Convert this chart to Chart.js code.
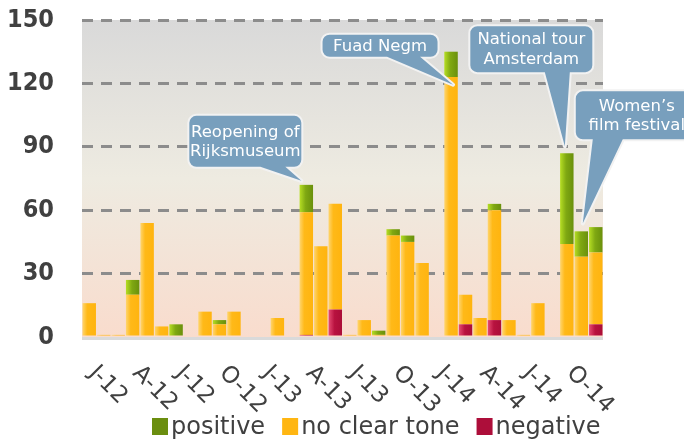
<!DOCTYPE html>
<html>
<head>
<meta charset="utf-8">
<script src="https://cdn.jsdelivr.net/npm/chart.js@4/dist/chart.umd.min.js"></script>
<style>
  html, body { margin: 0; padding: 0; background: #ffffff; }
  #wrap { width: 684px; height: 439px; position: relative; }
</style>
</head>
<body>
<div id="wrap"><canvas id="c"></canvas></div>
<script>
// ---- data ----
const categories = [
  'J-12','F-12','M-12','A-12','M-12','J-12','J-12','A-12','S-12','O-12','N-12','D-12',
  'J-13','F-13','M-13','A-13','M-13','J-13','J-13','A-13','S-13','O-13','N-13','D-13',
  'J-14','F-14','M-14','A-14','M-14','J-14','J-14','A-14','S-14','O-14','N-14','D-14'
];
const negative = [0,0,0,0,0,0,0,0,0,0,0,0, 0,0,0,1,0,13,0,0,0,0,0,0, 0,0,6,0,8,0,0,0,0,0,0,6];
const noClearTone = [16,1,1,20,54,5,0,0,12,6,12,0, 0,9,0,58,43,50,1,8,1,48,45,35, 0,123,14,9,52,8,1,16,0,44,38,34];
const positive = [0,0,0,7,0,0,6,0,0,2,0,0, 0,0,0,13,0,0,0,0,2,3,3,0, 0,12,0,0,3,0,0,0,0,43,12,12];
const seriesNames = ['negative', 'no clear tone', 'positive'];
const calloutTexts = [
  ['Reopening of', 'Rijksmuseum'],
  ['Fuad Negm'],
  ['National tour', 'Amsterdam'],
  ['Women\u2019s', 'film festival']
];
const calloutIndex = [15, 25, 33, 34];

// ---- styles / layout ----
const FONT = '"DejaVu Sans", sans-serif';
const TEXT = '#404040';
const calloutGeom = [
  { tip: [-5, -4],  box: [-112, -65, 112, 51],   base: [-41, -16] },
  { tip: [2, 33],   box: [-130.5, -50, 115, 22], base: [-66, -33] },
  { tip: [-2, -7],  box: [-94.5, -120, 122, 46], base: [-20, 5] },
  { tip: [1.5, -8], box: [-7, -132, 122, 48],    base: [10, 40] }
];

function barGradient(stops, solid) {
  return (ctx) => {
    const chart = ctx.chart;
    const xs = chart.scales && chart.scales.x;
    if (!xs || ctx.type !== 'data' || !xs.width) return solid;
    const cx = xs.getPixelForValue(ctx.dataIndex);
    const w = xs.width / categories.length * 0.93;
    const g = chart.ctx.createLinearGradient(cx - w / 2, 0, cx + w / 2, 0);
    stops.forEach(s => g.addColorStop(s[0], s[1]));
    return g;
  };
}

const legendColors = ['#ad0e3a', '#ffb612', '#6b8e0f'];

const bgPlugin = {
  id: 'bg',
  beforeDraw(chart) {
    const { ctx, chartArea: a } = chart;
    const g = ctx.createLinearGradient(0, a.top, 0, a.bottom);
    g.addColorStop(0, '#d9d9d9');
    g.addColorStop(0.5, '#eeebe1');
    g.addColorStop(1, '#f9dccd');
    ctx.save();
    ctx.fillStyle = g;
    ctx.fillRect(a.left, a.top, a.right - a.left, a.bottom - a.top);
    ctx.restore();
  },
  afterDatasetsDraw(chart) {
    const { ctx, chartArea: a } = chart;
    ctx.save();
    ctx.fillStyle = '#dadada';
    ctx.fillRect(a.left, a.bottom, a.right - a.left, 3);
    ctx.restore();
  }
};

function calloutPath(c, bx, by, bw, bh, r, b1, b2, tx, ty) {
  c.beginPath();
  c.moveTo(bx + r, by);
  c.lineTo(bx + bw - r, by);
  c.arcTo(bx + bw, by, bx + bw, by + r, r);
  c.lineTo(bx + bw, by + bh - r);
  c.arcTo(bx + bw, by + bh, bx + bw - r, by + bh, r);
  c.lineTo(b2, by + bh);
  c.lineTo(tx, ty);
  c.lineTo(b1, by + bh);
  c.lineTo(bx + r, by + bh);
  c.arcTo(bx, by + bh, bx, by + bh - r, r);
  c.lineTo(bx, by + r);
  c.arcTo(bx, by, bx + r, by, r);
  c.closePath();
}

const overlayPlugin = {
  id: 'overlay',
  afterDraw(chart) {
    const c = chart.ctx;
    const xs = chart.scales.x;
    const a = chart.chartArea;
    // x tick labels, rotated clockwise
    c.save();
    c.font = '23px ' + FONT;
    c.fillStyle = TEXT;
    c.textAlign = 'left';
    c.textBaseline = 'alphabetic';
    categories.forEach((lab, i) => {
      if (i % 3 !== 0) return;
      const x = xs.getPixelForValue(i);
      c.save();
      c.translate(x - 1, a.bottom + 37);
      c.rotate(Math.PI / 4);
      c.fillText(lab, 0, 0);
      c.restore();
    });
    c.restore();

    // legend
    c.save();
    c.font = '24px ' + FONT;
    c.textBaseline = 'alphabetic';
    c.textAlign = 'left';
    let lx = a.left + 70;
    const ly = 418;
    for (let k = chart.data.datasets.length - 1; k >= 0; k--) {
      const ds = chart.data.datasets[k];
      c.fillStyle = legendColors[k];
      c.fillRect(lx, ly, 16, 17);
      c.fillStyle = TEXT;
      c.fillText(ds.label, lx + 19, ly + 16);
      lx += 19 + c.measureText(ds.label).width + 17;
    }
    c.restore();

    // callouts
    const meta = chart.getDatasetMeta(chart.data.datasets.length - 1);
    c.save();
    c.font = '16.5px ' + FONT;
    c.textAlign = 'center';
    c.textBaseline = 'alphabetic';
    calloutIndex.forEach((idx, n) => {
      const el = meta.data[idx];
      const gm = calloutGeom[n];
      const tx = el.x + gm.tip[0], ty = el.y + gm.tip[1];
      const bx = tx + gm.box[0], by = ty + gm.box[1], bw = gm.box[2], bh = gm.box[3];
      calloutPath(c, bx, by, bw, bh, 7, tx + gm.base[0], tx + gm.base[1], tx, ty);
      c.lineJoin = 'round';
      c.strokeStyle = '#f2f2f2';
      c.lineWidth = 4;
      c.stroke();
      c.fillStyle = '#789fbd';
      c.fill();
      c.fillStyle = '#ffffff';
      const lines = calloutTexts[n];
      const cy = by + bh / 2;
      lines.forEach((t, i) => {
        c.fillText(t, bx + bw / 2, cy + (i - (lines.length - 1) / 2) * 19.5 + 5);
      });
    });
    c.restore();
  }
};

new Chart(document.getElementById('c'), {
  type: 'bar',
  data: {
    labels: categories,
    datasets: [
      { label: seriesNames[0], data: negative,
        backgroundColor: barGradient([[0, '#e64c72'], [0.45, '#b8123f'], [1, '#ab0e38']], '#ad0e3a') },
      { label: seriesNames[1], data: noClearTone,
        backgroundColor: barGradient([[0, '#ffd56e'], [0.35, '#ffb918'], [1, '#ffb40f']], '#ffb612') },
      { label: seriesNames[2], data: positive,
        backgroundColor: barGradient([[0, '#b6de24'], [0.45, '#7fa812'], [1, '#6a900c']], '#6b8e0f') }
    ]
  },
  options: {
    responsive: true,
    maintainAspectRatio: false,
    animation: false,
    layout: { padding: { top: 20, right: 81, bottom: 0, left: 0 } },
    datasets: { bar: { barPercentage: 0.93, categoryPercentage: 1.0, borderWidth: 0 } },
    plugins: { legend: { display: false }, tooltip: { enabled: false } },
    scales: {
      x: {
        stacked: true,
        grid: { display: false },
        border: { display: false },
        ticks: { display: false },
        afterFit(scale) { scale.height = 102; scale.paddingLeft = 0; scale.paddingRight = 0; }
      },
      y: {
        stacked: true,
        min: 0, max: 150,
        ticks: {
          stepSize: 30,
          padding: 28,
          color: TEXT,
          font: { family: '"DejaVu Sans Condensed", "DejaVu Sans", sans-serif', size: 25, weight: 'bold' }
        },
        grid: {
          drawTicks: false,
          lineWidth: 3,
          color: (ctx) => (ctx.tick && ctx.tick.value === 0) ? 'rgba(0,0,0,0)' : '#8c8c8c'
        },
        border: { display: false, dash: [11, 8] },
        afterFit(scale) { scale.width = 82; scale.paddingTop = 0; scale.paddingBottom = 0; }
      }
    }
  },
  plugins: [bgPlugin, overlayPlugin]
});
</script>
</body>
</html>
